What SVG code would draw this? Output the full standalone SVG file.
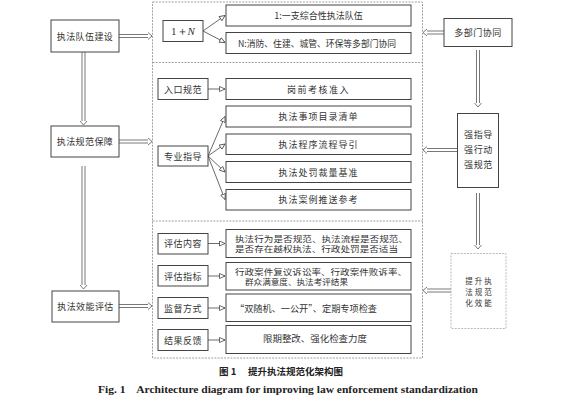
<svg xmlns="http://www.w3.org/2000/svg" width="561" height="401" viewBox="0 0 561 401">
<defs>
<marker id="tri" markerUnits="userSpaceOnUse" markerWidth="8" markerHeight="7" refX="6" refY="3" orient="auto">
<path d="M0.5,0.5 L6,3 L0.5,5.5 Z" fill="#fff" stroke="#444" stroke-width="0.8"/>
</marker>
<style>
.box{fill:#fff;stroke:#444;stroke-width:1}
.dash{fill:none;stroke:#888;stroke-width:0.8;stroke-dasharray:2,1.2}
.t{font-family:"Noto Sans CJK SC","Noto Sans CJK JP",sans-serif;font-size:9px;fill:#333;text-anchor:middle;dominant-baseline:central}
.tl{font-family:"Noto Sans CJK SC","Noto Sans CJK JP",sans-serif;font-size:8.5px;fill:#333;dominant-baseline:central}
.arr{fill:none;stroke:#444;stroke-width:0.8;marker-end:url(#tri)}
.dbl{fill:none;stroke:#555;stroke-width:0.8}
</style>
</defs>
<rect width="561" height="401" fill="#fff"/>

<!-- container -->
<g id="container">
<rect class="dash" x="152.5" y="2" width="270" height="356"/>
<line class="dash" x1="152.5" y1="62.5" x2="422.5" y2="62.5"/>
<line class="dash" x1="152.5" y1="221" x2="422.5" y2="221"/>
</g>

<g id="connectors">
<!-- left verticals -->
<path class="dbl" d="M82,52 V121 M85,52 V121 M80,121 L83.5,125 L87,121"/>
<path class="dbl" d="M82,166 V285 M85,166 V285 M80,285 L83.5,289 L87,285"/>
<!-- left horizontals -->
<path class="dbl" d="M119,34.5 H148 M119,37.5 H148 M148,32.5 L152,36 L148,39.5"/>
<path class="dbl" d="M119,140 H148 M119,143 H148 M148,138 L152,141.5 L148,145"/>
<path class="dbl" d="M119,304.5 H148 M119,307.5 H148 M148,302.5 L152,306 L148,309.5"/>
<!-- right horizontals (pointing left) -->
<path class="dbl" d="M444,31 H427 M444,34 H427 M427,29 L423,32.5 L427,36"/>
<path class="dbl" d="M457,148.5 H427 M457,151.5 H427 M427,146.5 L423,150 L427,153.5"/>
<path class="dbl" d="M451,289 H427 M451,292 H427 M427,287 L423,290.5 L427,294"/>
<!-- right verticals -->
<path class="dbl" d="M476.5,50 V103 M479.5,50 V103 M474.5,103 L478,107 L481.5,103"/>
<path class="dbl" d="M476.5,193 V245 M479.5,193 V245 M474.5,245 L478,249 L481.5,245"/>
<!-- section 1 fan -->
<line class="arr" x1="203" y1="31" x2="225" y2="15.5"/>
<line class="arr" x1="203" y1="31" x2="225" y2="42.5"/>
<!-- section 2 -->
<line class="arr" x1="208" y1="89" x2="225" y2="89"/>
<line class="arr" x1="208" y1="156" x2="225" y2="116.5"/>
<line class="arr" x1="208" y1="156" x2="225" y2="144"/>
<line class="arr" x1="208" y1="156" x2="225" y2="172"/>
<line class="arr" x1="208" y1="156" x2="225" y2="199.5"/>
<!-- section 3 -->
<line class="arr" x1="208" y1="243.5" x2="225" y2="243.5"/>
<line class="arr" x1="208" y1="276" x2="225" y2="276"/>
<line class="arr" x1="208" y1="308" x2="225" y2="308"/>
<line class="arr" x1="208" y1="340" x2="225" y2="340"/>
</g>

<!-- left column -->
<g id="n-team"><rect class="box" x="51" y="20" width="68" height="32"/><text class="t" x="85" y="36" letter-spacing="0.4">执法队伍建设</text></g>
<g id="n-guarantee"><rect class="box" x="51" y="126" width="68" height="31"/><text class="t" x="85" y="141.5" letter-spacing="0.4">执法规范保障</text></g>
<g id="n-eval"><rect class="box" x="52" y="291" width="67" height="31"/><text class="t" x="85.5" y="306.5" letter-spacing="0.4">执法效能评估</text></g>

<!-- section 1 -->
<g id="n-1n"><rect class="box" x="163" y="20.5" width="40" height="21"/><text class="t" x="183" y="31" style="font-family:'Liberation Serif',serif;font-size:11px">1＋<tspan font-style="italic">N</tspan></text></g>
<g id="n-one"><rect class="box" x="226" y="5" width="185" height="21"/><text class="t" x="318.5" y="15.5">1:一支综合性执法队伍</text></g>
<g id="n-n"><rect class="box" x="226" y="32.5" width="185" height="21"/><text class="tl" x="238" y="43" textLength="158" lengthAdjust="spacingAndGlyphs" style="font-size:9px">N:消防、住建、城管、环保等多部门协同</text></g>

<!-- section 2 -->
<g id="n-entry"><rect class="box" x="158" y="78.5" width="50" height="21"/><text class="t" x="183" y="89" letter-spacing="0.5">入口规范</text></g>
<g id="n-exam"><rect class="box" x="226" y="78.5" width="185" height="21"/><text class="t" x="318.5" y="89" letter-spacing="1.5">岗前考核准入</text></g>
<g id="n-prof"><rect class="box" x="158" y="146" width="50" height="20"/><text class="t" x="183" y="156" letter-spacing="0.5">专业指导</text></g>
<g id="n-list"><rect class="box" x="226" y="106" width="185" height="21"/><text class="t" x="318.5" y="116.5" letter-spacing="1">执法事项目录清单</text></g>
<g id="n-proc"><rect class="box" x="226" y="134" width="185" height="20.5"/><text class="t" x="318.5" y="144" letter-spacing="1">执法程序流程导引</text></g>
<g id="n-pen"><rect class="box" x="226" y="161.5" width="185" height="21"/><text class="t" x="318.5" y="172" letter-spacing="1">执法处罚裁量基准</text></g>
<g id="n-case"><rect class="box" x="226" y="189.5" width="185" height="20.5"/><text class="t" x="318.5" y="199.5" letter-spacing="1">执法案例推送参考</text></g>

<!-- section 3 -->
<g id="n-content"><rect class="box" x="158" y="233.5" width="50" height="20.5"/><text class="t" x="183" y="243.5" letter-spacing="0.5">评估内容</text></g>
<g id="n-index"><rect class="box" x="158" y="265.5" width="50" height="20.5"/><text class="t" x="183" y="276" letter-spacing="0.5">评估指标</text></g>
<g id="n-super"><rect class="box" x="158" y="297.5" width="50" height="21"/><text class="t" x="183" y="308" letter-spacing="0.5">监督方式</text></g>
<g id="n-feed"><rect class="box" x="158" y="329.5" width="50" height="21"/><text class="t" x="183" y="340" letter-spacing="0.5">结果反馈</text></g>
<g id="n-c1"><rect class="box" x="226" y="229.5" width="185" height="28"/>
<text class="tl" x="235" y="237.5" textLength="173" lengthAdjust="spacingAndGlyphs">执法行为是否规范、执法流程是否规范、</text>
<text class="tl" x="235" y="248.2" textLength="163" lengthAdjust="spacingAndGlyphs">是否存在越权执法、行政处罚是否适当</text></g>
<g id="n-c2"><rect class="box" x="226" y="262.5" width="185" height="27.5"/>
<text class="tl" x="235" y="270.5" textLength="172" lengthAdjust="spacingAndGlyphs">行政案件复议诉讼率、行政案件败诉率、</text>
<text class="tl" x="245" y="281.2" textLength="103" lengthAdjust="spacingAndGlyphs">群众满意度、执法考评结果</text></g>
<g id="n-c3"><rect class="box" x="226" y="294" width="185" height="27.5"/>
<text class="tl" x="235" y="308" textLength="142" lengthAdjust="spacingAndGlyphs" style="font-size:9px">“双随机、一公开”、定期专项检查</text></g>
<g id="n-c4"><rect class="box" x="226" y="325.5" width="185" height="28"/>
<text class="tl" x="263" y="338.5" textLength="104" lengthAdjust="spacingAndGlyphs" style="font-size:9px">限期整改、强化检查力度</text></g>

<!-- right column -->
<g id="n-multi"><rect class="box" x="444" y="18.5" width="68" height="28"/><text class="t" x="478" y="32.5" letter-spacing="0.5">多部门协同</text></g>
<g id="n-strong"><rect class="box" x="457.5" y="113.5" width="41" height="74"/>
<text class="t" x="478.5" y="134" letter-spacing="0.6">强指导</text>
<text class="t" x="478.5" y="149" letter-spacing="0.6">强行动</text>
<text class="t" x="478.5" y="164" letter-spacing="0.6">强规范</text></g>
<g id="n-improve"><rect x="451" y="253.5" width="55" height="75" fill="#fff" stroke="#aaa" stroke-width="0.8" stroke-dasharray="2,1.2"/>
<text class="t" x="479.5" y="280.3" letter-spacing="2" style="font-size:7.5px">提升执</text>
<text class="t" x="479.5" y="291.4" letter-spacing="2" style="font-size:7.5px">法规范</text>
<text class="t" x="479.5" y="302.5" letter-spacing="2" style="font-size:7.5px">化效能</text></g>

<!-- captions -->
<text x="281" y="371" style="font-family:'Noto Sans CJK SC',sans-serif;font-size:9.5px;font-weight:bold;fill:#222;text-anchor:middle;dominant-baseline:central" xml:space="preserve">图 1　 提升执法规范化架构图</text>
<text x="98" y="389" textLength="380" lengthAdjust="spacingAndGlyphs" style="font-family:'Liberation Serif',serif;font-size:10.5px;font-weight:bold;fill:#222;dominant-baseline:central" xml:space="preserve">Fig. 1    Architecture diagram for improving law enforcement standardization</text>
</svg>
